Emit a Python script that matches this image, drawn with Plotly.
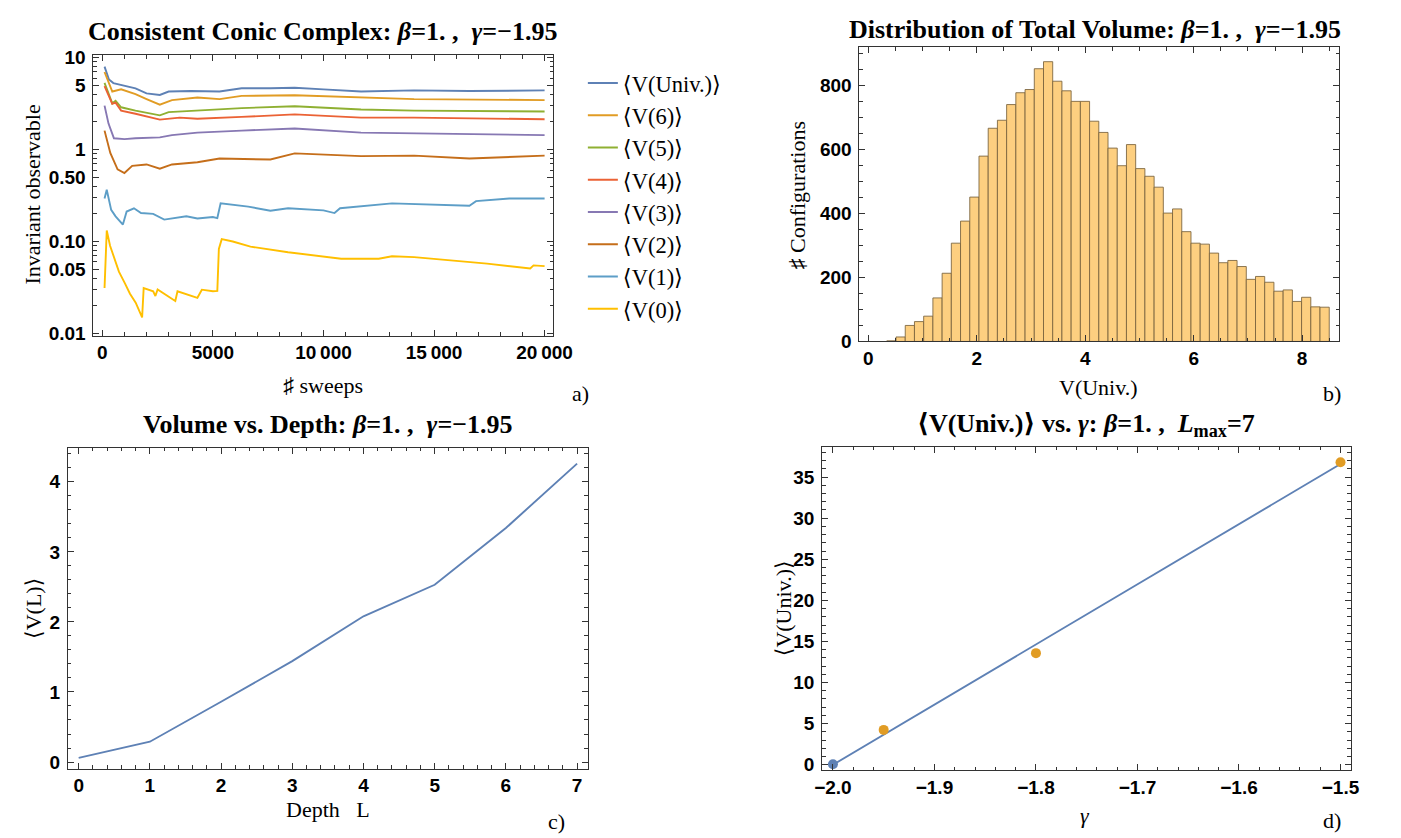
import plotly.graph_objects as go

# ---------------- data ----------------
# Panel a: running averages vs sweeps (log scale)
sw_univ = [100, 300, 500, 1000, 1500, 2000, 2600, 3000, 4000, 5300, 6300, 7600, 8700, 10000, 11700, 14100, 16600, 20000]
v_univ = [8.0, 5.8, 5.3, 5.0, 4.65, 4.1, 3.94, 4.29, 4.35, 4.29, 4.65, 4.65, 4.72, 4.53, 4.29, 4.41, 4.35, 4.41]

sw_v6 = [100, 450, 850, 1500, 2000, 2600, 3150, 4300, 5300, 6300, 8700, 11700, 14100, 20000]
v_v6 = [7.0, 4.29, 4.53, 4.01, 3.55, 3.09, 3.46, 3.70, 3.55, 3.85, 3.91, 3.70, 3.55, 3.46]

sw_v5 = [100, 450, 600, 850, 1500, 2000, 2600, 3000, 4300, 6300, 8700, 11700, 14100, 20000]
v_v5 = [5.34, 3.19, 3.40, 2.89, 2.66, 2.50, 2.36, 2.56, 2.66, 2.83, 2.97, 2.73, 2.66, 2.60]

sw_v4 = [100, 450, 600, 850, 1500, 2600, 3500, 4300, 6300, 8700, 11700, 14100, 20000]
v_v4 = [4.91, 3.15, 3.25, 2.66, 2.46, 2.12, 2.23, 2.17, 2.27, 2.42, 2.23, 2.23, 2.14]

sw_v3 = [100, 280, 525, 1000, 1500, 2600, 3150, 4300, 6300, 8700, 11700, 14100, 20000]
v_v3 = [3.01, 1.92, 1.33, 1.30, 1.33, 1.36, 1.44, 1.53, 1.61, 1.70, 1.53, 1.51, 1.44]

sw_v2 = [100, 360, 690, 1000, 1350, 2000, 2600, 3150, 4300, 5300, 7600, 8700, 11700, 14100, 16600, 20000]
v_v2 = [1.61, 0.92, 0.61, 0.556, 0.665, 0.69, 0.62, 0.69, 0.73, 0.80, 0.78, 0.91, 0.85, 0.86, 0.80, 0.86]

sw_v1 = [100, 200, 400, 600, 930, 1100, 1430, 1750, 2300, 2800, 3800, 4300, 5000, 5200, 5350, 6600, 7600,
         8400, 10000, 10500, 10750, 12000, 13100, 16600, 16900, 18400, 20000]
v_v1 = [0.294, 0.366, 0.221, 0.188, 0.153, 0.212, 0.23, 0.204, 0.20, 0.173, 0.188, 0.178, 0.185, 0.18, 0.26,
        0.24, 0.216, 0.23, 0.218, 0.204, 0.23, 0.245, 0.26, 0.245, 0.275, 0.294, 0.294]

sw_v0 = [100, 200, 350, 525, 750, 1017, 1250, 1509, 1800, 1870, 2300, 2400, 2500, 3300, 3400, 4300, 4500,
         5000, 5200, 5270, 5400, 5900, 6700, 8400, 9500, 10800, 12500, 13100, 14100, 17400, 19350, 19500, 20000]
v_v0 = [0.0312, 0.132, 0.09, 0.0676, 0.047, 0.0352, 0.027, 0.0216, 0.0149, 0.0312, 0.0287, 0.0255, 0.030,
        0.0225, 0.0287, 0.0244, 0.0299, 0.0287, 0.029, 0.083, 0.106, 0.10, 0.088, 0.0764, 0.0705, 0.065,
        0.065, 0.069, 0.0676, 0.0575, 0.0508, 0.055, 0.054]

series_names = ["⟨V(Univ.)⟩", "⟨V(6)⟩", "⟨V(5)⟩", "⟨V(4)⟩", "⟨V(3)⟩", "⟨V(2)⟩", "⟨V(1)⟩", "⟨V(0)⟩"]
series_colors = ["#5E81B5", "#E19C24", "#8FB032", "#EB6235", "#8778B3", "#C56E1A", "#5D9EC7", "#FFBF00"]

# Panel b: histogram of total volume
bin_centers = [0.425, 0.595, 0.765, 0.935, 1.105, 1.275, 1.445, 1.615, 1.785, 1.955, 2.125, 2.295,
               2.465, 2.635, 2.805, 2.975, 3.145, 3.315, 3.485, 3.655, 3.825, 3.995, 4.165, 4.335,
               4.505, 4.675, 4.845, 5.015, 5.185, 5.355, 5.525, 5.695, 5.865, 6.035, 6.205, 6.375,
               6.545, 6.715, 6.885, 7.055, 7.225, 7.395, 7.565, 7.735, 7.905, 8.075, 8.245, 8.415]
bin_counts = [2, 14, 50, 62, 79, 136, 213, 307, 376, 451, 579, 666, 691, 740, 777, 787, 852, 874,
              813, 783, 750, 750, 688, 653, 604, 549, 615, 540, 516, 482, 401, 414, 343, 307, 304,
              276, 246, 253, 234, 194, 203, 185, 157, 161, 125, 138, 108, 107]
bin_width = 0.17

# Panel c: volume vs depth
depth = [0, 1, 2, 3, 4, 5, 6, 7]
v_depth = [0.06, 0.29, 0.86, 1.44, 2.08, 2.53, 3.34, 4.26]

# Panel d: <V(Univ.)> vs gamma
gamma_blue = [-2.0]
v_blue = [0.05]
gamma_orange = [-1.95, -1.8, -1.5]
v_orange = [4.24, 13.58, 36.8]
fit_gamma = [-2.0, -1.5]
fit_v = [0.0, 36.6]

# ---------------- layout helpers ----------------
W, H = 1401, 838
SERIF = "Liberation Serif, Times New Roman, DejaVu Serif, serif"
SANS = "Liberation Sans, Arial, sans-serif"
FRAME = "#333333"


def fx(p):
    return p / W


def fy(p):
    return 1 - p / H


def axis_common(**kw):
    d = dict(showline=True, linecolor=FRAME, linewidth=1, mirror="allticks",
             ticks="inside", ticklen=6, tickwidth=1, tickcolor=FRAME,
             showgrid=False, zeroline=False,
             tickfont=dict(family=SANS, size=19, color="black", weight="bold"))
    d.update(kw)
    return d


MINOR = dict(ticks="inside", ticklen=3.5, tickcolor=FRAME, showgrid=False)
XSTAND = 0
YSTAND = 3

fig = go.Figure()

# panel a
all_sw = [sw_univ, sw_v6, sw_v5, sw_v4, sw_v3, sw_v2, sw_v1, sw_v0]
all_v = [v_univ, v_v6, v_v5, v_v4, v_v3, v_v2, v_v1, v_v0]
for nm, xs, ys, col in zip(series_names, all_sw, all_v, series_colors):
    fig.add_trace(go.Scatter(x=xs, y=ys, mode="lines", name=nm,
                             line=dict(color=col, width=1.9),
                             xaxis="x", yaxis="y"))

# panel b
fig.add_trace(go.Bar(x=bin_centers, y=bin_counts, width=bin_width, showlegend=False,
                     marker=dict(color="#FDCF80", line=dict(color="rgba(120,98,60,0.85)", width=1)),
                     xaxis="x2", yaxis="y2"))

# panel c
fig.add_trace(go.Scatter(x=depth, y=v_depth, mode="lines", showlegend=False,
                         line=dict(color="#5E81B5", width=1.9), xaxis="x3", yaxis="y3"))

# panel d
fig.add_trace(go.Scatter(x=fit_gamma, y=fit_v, mode="lines", showlegend=False,
                         line=dict(color="#5E81B5", width=1.9), xaxis="x4", yaxis="y4"))
fig.add_trace(go.Scatter(x=gamma_orange, y=v_orange, mode="markers", showlegend=False,
                         marker=dict(color="#E19C24", size=10), xaxis="x4", yaxis="y4"))
fig.add_trace(go.Scatter(x=gamma_blue, y=v_blue, mode="markers", showlegend=False,
                         marker=dict(color="#5E81B5", size=10), xaxis="x4", yaxis="y4"))

minor_log = [m * 10 ** e for e in (-2, -1, 0) for m in (2, 3, 4, 6, 7, 8, 9)]

fig.update_layout(
    width=W, height=H, autosize=False,
    margin=dict(l=0, r=0, t=0, b=0),
    paper_bgcolor="white", plot_bgcolor="white",
    xaxis=axis_common(domain=[fx(79), fx(548)], range=[-400, 20400], anchor="y",
                      tickmode="array", tickvals=[0, 5000, 10000, 15000, 20000],
                      ticktext=["0", "5000", "10\u2009000", "15\u2009000", "20\u2009000"],
                      ticklabelstandoff=XSTAND,
                      minor=dict(MINOR, dtick=1000, tick0=0)),
    yaxis=axis_common(domain=[fy(327), fy(40)], type="log", range=[-2.024, 1.029], anchor="x",
                      tickmode="array", tickvals=[0.01, 0.05, 0.1, 0.5, 1, 5, 10],
                      ticktext=["0.01", "0.05", "0.10", "0.50", "1", "5", "10"],
                      ticklabelstandoff=YSTAND,
                      minor=dict(MINOR, tickmode="array", tickvals=minor_log)),
    xaxis2=axis_common(domain=[fx(860), fx(1349)], range=[-0.165, 8.68], anchor="y2",
                       dtick=2, tick0=0, ticklabelstandoff=XSTAND,
                       minor=dict(MINOR, dtick=0.5)),
    yaxis2=axis_common(domain=[fy(333), fy(32)], range=[0, 919], anchor="x2",
                       dtick=200, tick0=0, ticklabelstandoff=YSTAND,
                       minor=dict(MINOR, dtick=50)),
    xaxis3=axis_common(domain=[fx(53), fx(583)], range=[-0.15, 7.15], anchor="y3",
                       dtick=1, tick0=0, ticklabelstandoff=XSTAND,
                       minor=dict(MINOR, dtick=0.2)),
    yaxis3=axis_common(domain=[fy(770), fy(441.7)], range=[-0.093, 4.487], anchor="x3",
                       dtick=1, tick0=0, ticklabelstandoff=YSTAND,
                       minor=dict(MINOR, dtick=0.2)),
    xaxis4=axis_common(domain=[fx(822), fx(1361)], range=[-2.0106, -1.4899], anchor="y4",
                       dtick=0.1, tick0=-2.0, tickformat=".1f", ticklabelstandoff=XSTAND,
                       minor=dict(MINOR, dtick=0.02)),
    yaxis4=axis_common(domain=[fy(772), fy(440.7)], range=[-0.7, 38.7], anchor="x4",
                       dtick=5, tick0=0, ticklabelstandoff=YSTAND,
                       minor=dict(MINOR, dtick=1)),
    legend=dict(x=fx(578), y=fy(47), xanchor="left", yanchor="top",
                font=dict(family=SERIF, size=22.5, color="black"),
                bgcolor="rgba(0,0,0,0)", borderwidth=0, traceorder="normal"),
    showlegend=True,
)


def ann(text, x, y, size=22, bold=False, angle=0, italic=False):
    t = text
    if italic:
        t = "<i>" + t + "</i>"
    if bold:
        t = "<b>" + t + "</b>"
    fig.add_annotation(text=t, x=fx(x), y=fy(y), xref="paper", yref="paper",
                       xanchor="center", yanchor="middle", showarrow=False, textangle=angle,
                       font=dict(family=SERIF, size=size, color="black"))


# titles
ann("Consistent Conic Complex: <i>β</i>=1. ,  <i>γ</i>=−1.95", 313, 16, size=26, bold=True)
ann("Distribution of Total Volume: <i>β</i>=1. ,  <i>γ</i>=−1.95", 1100, 14, size=26, bold=True)
ann("Volume vs. Depth: <i>β</i>=1. ,  <i>γ</i>=−1.95", 318, 418, size=26, bold=True)
ann("⟨V(Univ.)⟩ vs. <i>γ</i>: <i>β</i>=1. ,  <i>L</i><sub>max</sub>=7", 1091, 418, size=26, bold=True)

# axis labels
ann("♯ sweeps", 313, 378)
ann("Invariant observable", 17, 183, angle=-90)
ann("V(Univ.)", 1104, 380)
ann("♯ Configurations", 797, 183, angle=-90)
ann("Depth   L", 318, 812)
ann("⟨V(L)⟩", 18, 606, angle=-90)
ann("γ", 1090, 818, italic=True)
ann("⟨V(Univ.)⟩", 782, 606, angle=-90)

# panel letters
ann("a)", 576, 386)
ann("b)", 1342, 386)
ann("c)", 551, 824)
ann("d)", 1342, 823)

fig.write_html("out.html")
